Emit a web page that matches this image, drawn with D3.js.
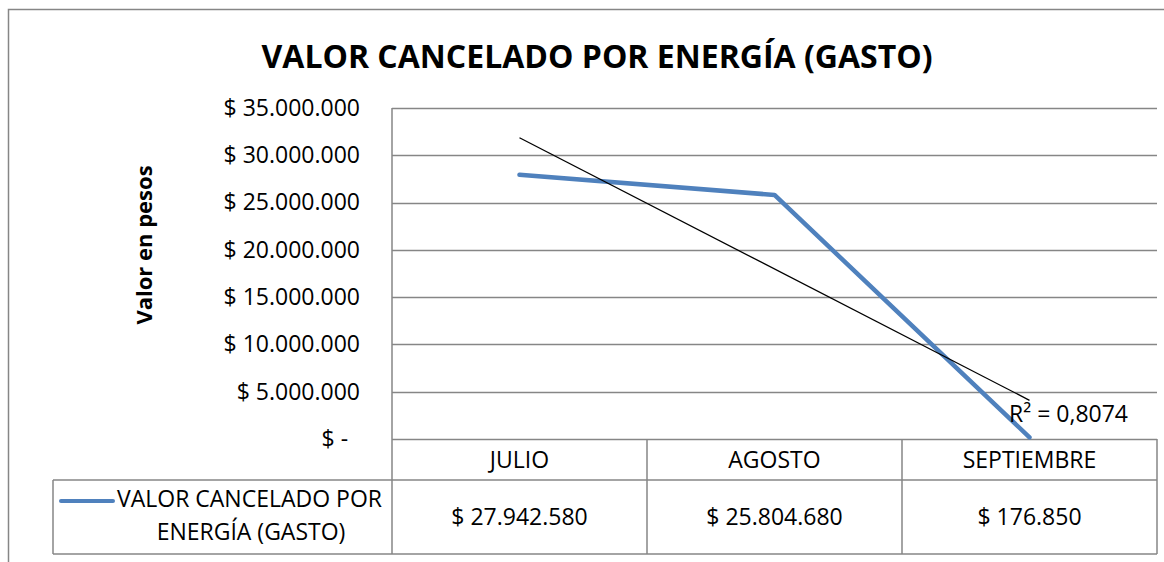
<!DOCTYPE html>
<html>
<head>
<meta charset="utf-8">
<script src="https://cdn.jsdelivr.net/npm/d3@7"></script>
<style>
  html, body { margin: 0; padding: 0; background: #fff; }
  svg { display: block; font-family: "Open Sans", "Noto Sans", sans-serif; }
</style>
</head>
<body>
<svg id="chart"></svg>
<script>
const categories = ["JULIO", "AGOSTO", "SEPTIEMBRE"];
const values = [27942580, 25804680, 176850];
const seriesName = ["VALOR CANCELADO POR", "ENERGÍA (GASTO)"];
const yTicks = [0, 5000000, 10000000, 15000000, 20000000, 25000000, 30000000, 35000000];
const title = "VALOR CANCELADO POR ENERGÍA (GASTO)";
const yTitle = "Valor en pesos";

const width = 1164;
const height = 562;
const plot = {left: 392, right: 1157, top: 108, bottom: 439};
const headerBottom = 480;
const tableBottom = 554;
const legendLeft = 53;
const fs = 23; // body text size

const blue = "#4F81BD";
const grey = "#868686";

const svg = d3.select("#chart")
    .attr("width", width)
    .attr("height", height);

// outer frame (only top and left edges visible)
svg.append("path")
    .attr("d", `M8.5,${height}V9.5H${width}`)
    .attr("fill", "none")
    .attr("stroke", grey)
    .attr("stroke-width", 1.5);

const x = d3.scaleBand(categories, [plot.left, plot.right]);
const y = d3.scaleLinear([0, 35000000], [plot.bottom, plot.top]);

const fmtNum = d3.formatLocale({decimal: ",", thousands: ".", grouping: [3], currency: ["$ ", ""]});
const money = v => v === 0 ? "$ -\u00a0\u00a0" : "$ " + fmtNum.format(",.0f")(v);

// gridlines
svg.append("g")
    .attr("stroke", grey)
    .attr("stroke-width", 1.5)
    .selectAll("line")
    .data(yTicks)
    .join("line")
    .attr("x1", plot.left)
    .attr("x2", plot.right)
    .attr("y1", d => Math.round(y(d)) + 0.5)
    .attr("y2", d => Math.round(y(d)) + 0.5);

// y axis labels
const yAxis = g => g
    .attr("transform", `translate(${plot.left},0)`)
    .call(d3.axisLeft(y).tickValues(yTicks).tickFormat(money).tickSize(0).tickPadding(32))
    .call(g => g.select(".domain").remove())
    .call(g => g.selectAll("text")
        .attr("font-family", "Open Sans, sans-serif")
        .attr("font-size", fs)
        .attr("fill", "#000"));
svg.append("g").call(yAxis);

// y axis title
svg.append("text")
    .attr("transform", `translate(152,245) rotate(-90)`)
    .attr("text-anchor", "middle")
    .attr("font-weight", "bold")
    .attr("font-size", 22)
    .text(yTitle);

// title
svg.append("text")
    .attr("x", 597)
    .attr("y", 68)
    .attr("text-anchor", "middle")
    .attr("font-weight", "bold")
    .attr("font-size", 32)
    .text(title);

// data table grid
const tbl = svg.append("g")
    .attr("fill", "none")
    .attr("stroke", grey)
    .attr("stroke-width", 1.5);
tbl.append("line")
    .attr("x1", plot.left).attr("x2", plot.left)
    .attr("y1", plot.top).attr("y2", tableBottom);
tbl.append("line")
    .attr("x1", plot.right).attr("x2", plot.right)
    .attr("y1", plot.bottom).attr("y2", tableBottom);
tbl.selectAll("line.col")
    .data(categories.slice(1))
    .join("line")
    .attr("class", "col")
    .attr("x1", d => x(d)).attr("x2", d => x(d))
    .attr("y1", plot.bottom).attr("y2", tableBottom);
tbl.append("line")
    .attr("x1", legendLeft).attr("x2", plot.right)
    .attr("y1", headerBottom).attr("y2", headerBottom);
tbl.append("line")
    .attr("x1", legendLeft).attr("x2", plot.right)
    .attr("y1", tableBottom).attr("y2", tableBottom);
tbl.append("line")
    .attr("x1", legendLeft).attr("x2", legendLeft)
    .attr("y1", headerBottom).attr("y2", tableBottom);

// header labels
svg.append("g")
    .selectAll("text")
    .data(categories)
    .join("text")
    .attr("x", d => x(d) + x.bandwidth() / 2)
    .attr("y", (plot.bottom + headerBottom) / 2)
    .attr("dy", "0.35em")
    .attr("text-anchor", "middle")
    .attr("font-size", fs)
    .text(d => d);

// value cells
svg.append("g")
    .selectAll("text")
    .data(values)
    .join("text")
    .attr("x", (d, i) => x(categories[i]) + x.bandwidth() / 2)
    .attr("y", (headerBottom + tableBottom) / 2)
    .attr("dy", "0.35em")
    .attr("text-anchor", "middle")
    .attr("font-size", fs)
    .text(d => money(d));

// legend key in table
svg.append("line")
    .attr("x1", 61).attr("x2", 113)
    .attr("y1", 501).attr("y2", 501)
    .attr("stroke", blue)
    .attr("stroke-width", 4)
    .attr("stroke-linecap", "round");
svg.append("text")
    .attr("x", 117)
    .attr("y", 499)
    .attr("dy", "0.35em")
    .attr("font-size", fs)
    .text(seriesName[0]);
svg.append("text")
    .attr("x", 251)
    .attr("y", 532)
    .attr("dy", "0.35em")
    .attr("text-anchor", "middle")
    .attr("font-size", fs)
    .text(seriesName[1]);

// series line
const line = d3.line()
    .x((d, i) => x(categories[i]) + x.bandwidth() / 2)
    .y(d => y(d));
svg.append("path")
    .datum(values)
    .attr("fill", "none")
    .attr("stroke", blue)
    .attr("stroke-width", 4.5)
    .attr("stroke-linecap", "round")
    .attr("stroke-linejoin", "round")
    .attr("d", line);

// linear trendline (least squares over category index)
const xs = values.map((d, i) => i + 1);
const mx = d3.mean(xs), my = d3.mean(values);
const slope = d3.sum(xs, (xi, i) => (xi - mx) * (values[i] - my)) / d3.sum(xs, xi => (xi - mx) ** 2);
const icpt = my - slope * mx;
const fitted = xs.map(xi => icpt + slope * xi);
const ssRes = d3.sum(values, (v, i) => (v - fitted[i]) ** 2);
const ssTot = d3.sum(values, v => (v - my) ** 2);
const r2 = 1 - ssRes / ssTot;

svg.append("path")
    .datum([fitted[0], fitted[2]])
    .attr("fill", "none")
    .attr("stroke", "#000")
    .attr("stroke-width", 1.3)
    .attr("d", d3.line()
        .x((d, i) => x(categories[i * 2]) + x.bandwidth() / 2)
        .y(d => y(d)));

svg.append("text")
    .attr("x", 1009)
    .attr("y", 414)
    .attr("dy", "0.35em")
    .attr("font-size", fs)
    .text("R² = " + r2.toFixed(4).replace(".", ","));
</script>
</body>
</html>
